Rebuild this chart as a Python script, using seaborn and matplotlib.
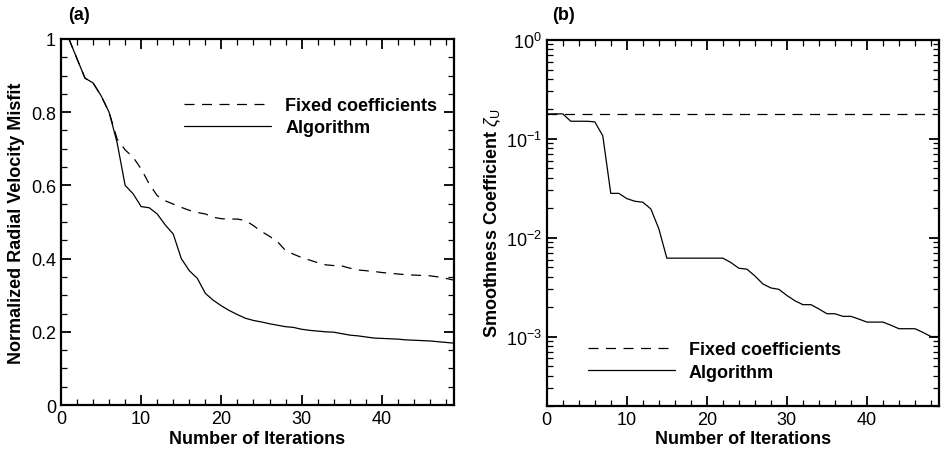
import matplotlib
matplotlib.use('Agg')
import matplotlib.pyplot as plt
from matplotlib.ticker import MultipleLocator, LogLocator
import seaborn as sns
import pandas as pd

# panel (a): normalized radial velocity misfit
iters_a = list(range(1, 50))
misfit_alg = [1.0, 0.946, 0.893, 0.88, 0.845, 0.80, 0.717, 0.60, 0.577, 0.542,
              0.539, 0.522, 0.492, 0.467, 0.40, 0.367, 0.346, 0.305, 0.286, 0.271,
              0.258, 0.247, 0.237, 0.231, 0.227, 0.222, 0.218, 0.214, 0.212, 0.207,
              0.204, 0.202, 0.200, 0.199, 0.195, 0.191, 0.189, 0.186, 0.183, 0.182,
              0.181, 0.180, 0.178, 0.177, 0.176, 0.175, 0.173, 0.171, 0.169]
misfit_fixed = [1.0, 0.946, 0.893, 0.88, 0.845, 0.80, 0.727, 0.697, 0.677, 0.645,
                0.604, 0.572, 0.558, 0.549, 0.540, 0.532, 0.526, 0.522, 0.513, 0.509,
                0.508, 0.508, 0.504, 0.490, 0.474, 0.461, 0.446, 0.422, 0.412, 0.403,
                0.396, 0.389, 0.383, 0.381, 0.380, 0.374, 0.369, 0.367, 0.365, 0.362,
                0.360, 0.358, 0.356, 0.355, 0.354, 0.353, 0.350, 0.346, 0.341]

# panel (b): smoothness coefficient
iters_b = list(range(0, 50))
zeta_fixed = [0.178] * 50
zeta_alg = [0.178, 0.178, 0.178, 0.15, 0.15, 0.15, 0.148, 0.107, 0.028, 0.028,
            0.0248, 0.0233, 0.0228, 0.0195, 0.0123, 0.0062, 0.0062, 0.0062, 0.0062, 0.0062,
            0.0062, 0.0062, 0.0062, 0.0056, 0.0049, 0.0048, 0.0041, 0.0034, 0.0031, 0.0030,
            0.0026, 0.0023, 0.0021, 0.0021, 0.0019, 0.0017, 0.0017, 0.0016, 0.0016, 0.0015,
            0.0014, 0.0014, 0.0014, 0.0013, 0.0012, 0.0012, 0.0012, 0.0011, 0.0010, 0.0010]

sns.set_style('ticks')
plt.rcParams['font.family'] = ['Liberation Sans', 'DejaVu Sans']
plt.rcParams['text.color'] = 'black'
plt.rcParams['axes.labelcolor'] = 'black'
plt.rcParams['mathtext.fontset'] = 'custom'
plt.rcParams['mathtext.rm'] = 'Liberation Sans'
plt.rcParams['mathtext.it'] = 'Liberation Sans:italic'
plt.rcParams['mathtext.bf'] = 'Liberation Sans:bold'

df_a = pd.DataFrame({'x': iters_a * 2,
                     'y': misfit_fixed + misfit_alg,
                     'series': ['Fixed coefficients'] * 49 + ['Algorithm'] * 49})
df_b = pd.DataFrame({'x': iters_b * 2,
                     'y': zeta_fixed + zeta_alg,
                     'series': ['Fixed coefficients'] * 50 + ['Algorithm'] * 50})

fig = plt.figure(figsize=(9.51, 4.56), dpi=100)
ax1 = fig.add_axes([0.0641, 0.1096, 0.4133, 0.8027])
ax2 = fig.add_axes([0.5749, 0.1081, 0.4125, 0.8026])

styles = {'Fixed coefficients': (8, 6), 'Algorithm': ''}
for ax, df in ((ax1, df_a), (ax2, df_b)):
    sns.lineplot(data=df, x='x', y='y', hue='series', style='series',
                 palette=['black', 'black'], dashes=styles, linewidth=0.9,
                 ax=ax, legend=True)

fs = 13
ax1.set_xlim(0, 49)
ax1.set_ylim(0, 1)
ax1.xaxis.set_major_locator(MultipleLocator(10))
ax1.xaxis.set_minor_locator(MultipleLocator(2))
ax1.yaxis.set_minor_locator(MultipleLocator(0.05))
ax1.set_yticks([0, 0.2, 0.4, 0.6, 0.8, 1.0])
ax1.set_yticklabels(['0', '0.2', '0.4', '0.6', '0.8', '1'])
ax1.set_xlabel('Number of Iterations', fontsize=fs, fontweight='bold', labelpad=2)
ax1.set_ylabel('Normalized Radial Velocity Misfit', fontsize=fs, fontweight='bold', labelpad=4)

ax2.set_yscale('log')
ax2.set_xlim(0, 49)
ax2.set_ylim(2e-4, 1)
ax2.xaxis.set_major_locator(MultipleLocator(10))
ax2.xaxis.set_minor_locator(MultipleLocator(2))
ax2.yaxis.set_major_locator(LogLocator(base=10, numticks=10))
ax2.yaxis.set_minor_locator(LogLocator(base=10, subs=range(2, 10), numticks=10))
ax2.set_xlabel('Number of Iterations', fontsize=fs, fontweight='bold', labelpad=2)
ax2.set_ylabel(r'Smoothness Coefficient $\zeta_{\mathrm{U}}$', fontsize=fs,
               fontweight='bold', labelpad=2)

for ax in (ax1, ax2):
    ax.set_facecolor('white')
    ax.tick_params(which='both', direction='in', top=True, right=True,
                   colors='black', labelsize=fs)
    ax.tick_params(which='major', length=7, width=1.3)
    ax.tick_params(which='minor', length=4, width=0.9)
    for sp in ax.spines.values():
        sp.set_visible(True)
        sp.set_linewidth(1.6)
        sp.set_color('black')

leg1 = ax1.legend(loc='center left', bbox_to_anchor=(0.313, 0.788), frameon=False,
                  borderpad=0, borderaxespad=0, handlelength=4.8, handletextpad=0.8,
                  labelspacing=0.3, prop={'weight': 'bold', 'size': fs})
leg2 = ax2.legend(loc='center left', bbox_to_anchor=(0.105, 0.122), frameon=False,
                  borderpad=0, borderaxespad=0, handlelength=4.8, handletextpad=0.8,
                  labelspacing=0.3, prop={'weight': 'bold', 'size': fs})
for leg in (leg1, leg2):
    for t in leg.get_texts():
        t.set_color('black')

fig.text(68 / 951, 1 - 15 / 456, '(a)', fontsize=fs, fontweight='bold', va='center')
fig.text(552 / 951, 1 - 15 / 456, '(b)', fontsize=fs, fontweight='bold', va='center')

fig.savefig('out.png', dpi=100)
